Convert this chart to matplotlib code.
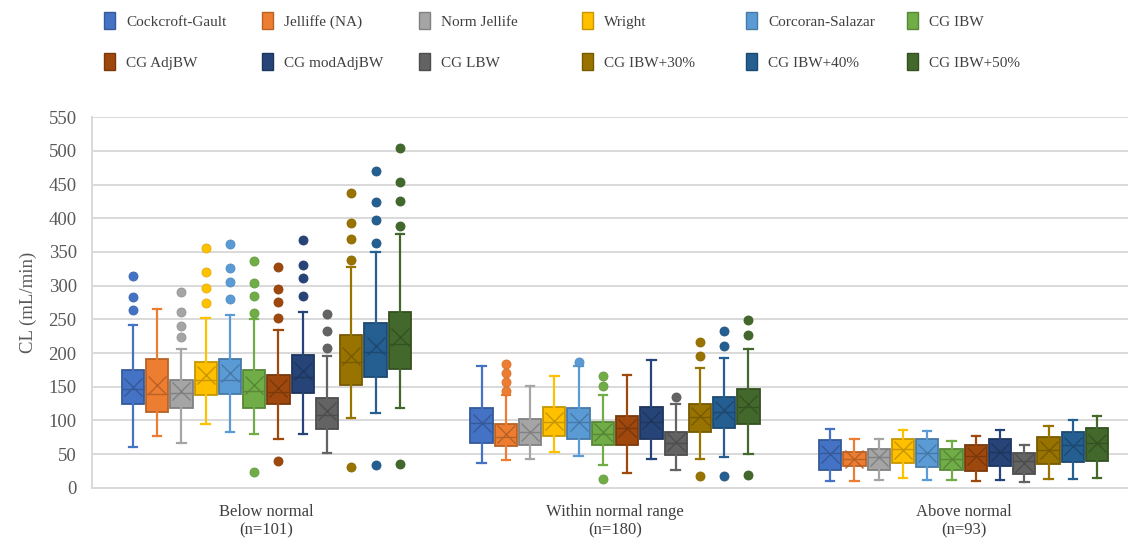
import matplotlib
matplotlib.use("Agg")
import matplotlib.pyplot as plt
from matplotlib.colors import to_rgb
from matplotlib.patches import Patch

plt.rcParams['font.family'] = ['Liberation Serif', 'DejaVu Serif']

methods = ["Cockcroft-Gault", "Jelliffe (NA)", "Norm Jellife", "Wright", "Corcoran-Salazar", "CG IBW",
           "CG AdjBW", "CG modAdjBW", "CG LBW", "CG IBW+30%", "CG IBW+40%", "CG IBW+50%"]
groups = ["Below normal\n(n=101)", "Within normal range\n(n=180)", "Above normal\n(n=93)"]
colors = ["#4472C4", "#ED7D31", "#A5A5A5", "#FFC000", "#5B9BD5", "#70AD47",
          "#9E480E", "#264478", "#636363", "#997300", "#255E91", "#43682B"]

# one row per renal function group, one column per method (mL/min)
whis_lo = [
    [60, 77, 67, 95, 82, 79, 73, 79, 51, 103, 111, 119],
    [36, 41, 43, 53, 47, 33, 22, 43, 27, 43, 46, 50],
    [10, 10, 11, 14, 12, 11, 10, 12, 8, 13, 13, 15],
]
q1 = [
    [124, 113, 119, 137, 139, 119, 124, 140, 87, 152, 165, 176],
    [66, 62, 63, 77, 72, 63, 63, 72, 48, 82, 89, 94],
    [27, 32, 27, 36, 30, 26, 25, 32, 20, 35, 38, 40],
]
med = [
    [147, 139, 140, 160, 160, 143, 142, 165, 108, 186, 202, 214],
    [96, 75, 82, 97, 97, 79, 88, 97, 66, 105, 112, 120],
    [52, 42, 46, 57, 52, 42, 47, 53, 39, 56, 63, 66],
]
mean = [
    [150, 152, 144, 168, 170, 152, 148, 174, 114, 196, 210, 224],
    [96, 79, 83, 99, 98, 82, 89, 100, 68, 107, 115, 124],
    [50, 42, 45, 56, 52, 42, 47, 53, 36, 56, 62, 66],
]
q3 = [
    [175, 191, 160, 186, 191, 175, 168, 197, 133, 227, 244, 261],
    [119, 95, 102, 120, 119, 98, 106, 120, 82, 125, 135, 146],
    [71, 53, 58, 72, 72, 58, 64, 72, 52, 76, 83, 88],
]
whis_hi = [
    [242, 266, 206, 252, 257, 251, 234, 261, 196, 327, 350, 376],
    [180, 138, 151, 166, 180, 137, 168, 189, 125, 178, 192, 206],
    [87, 73, 72, 86, 84, 70, 77, 86, 64, 92, 100, 107],
]
outliers = [
    [[314, 283, 264], [], [290, 261, 240, 224], [356, 320, 296, 275], [362, 326, 305, 280],
     [336, 304, 285, 260, 24], [328, 295, 276, 252, 40], [368, 331, 311, 285], [258, 232, 208],
     [438, 393, 369, 338, 31], [470, 424, 398, 364, 34], [505, 454, 426, 389, 35]],
    [[], [184, 170, 157, 144], [], [], [187], [166, 151, 13], [], [], [134],
     [216, 196, 17], [233, 211, 17], [249, 226, 19]],
    [[] for _ in range(12)],
]


def darker(c, f=0.78):
    r, g, b = to_rgb(c)
    return (r * f, g * f, b * f)


fig = plt.figure(figsize=(11.28, 5.48), dpi=100)
ax = fig.add_axes([92 / 1128, 60.3 / 548, 1046 / 1128, 370.4 / 548])

step = 0.0696
bw = 0.064
for j, (m, c) in enumerate(zip(methods, colors)):
    ec = darker(c)
    stats = []
    for g in range(3):
        stats.append(dict(med=med[g][j], q1=q1[g][j], q3=q3[g][j], whislo=whis_lo[g][j],
                          whishi=whis_hi[g][j], mean=mean[g][j], fliers=outliers[g][j]))
    pos = [g + (j - 5.5) * step for g in range(3)]
    ax.bxp(stats, positions=pos, widths=bw, capwidths=0.024, patch_artist=True,
           showmeans=True, manage_ticks=False,
           boxprops=dict(facecolor=c, edgecolor=ec, linewidth=1.3),
           whiskerprops=dict(color=c, linewidth=1.6),
           capprops=dict(color=c, linewidth=1.6),
           medianprops=dict(color=ec, linewidth=1.0),
           meanprops=dict(marker='x', markersize=13, markeredgecolor=ec, markeredgewidth=1.0),
           flierprops=dict(marker='o', markersize=6.5, markerfacecolor=c,
                           markeredgecolor=darker(c, 0.9), markeredgewidth=0.6))

ax.set_xlim(-0.5, 2.5)
ax.set_ylim(0, 550)
ax.set_yticks(range(0, 551, 50))
ax.set_xticks(range(3))
ax.set_xticklabels(groups, fontsize=12, color="#404040", linespacing=1.15)
ax.tick_params(axis='y', length=0, pad=11, labelsize=13.5, labelcolor="#595959")
ax.tick_params(axis='x', length=0, pad=12)
ax.grid(axis='y', color="#D9D9D9", linewidth=1.4)
ax.set_axisbelow(True)
for s in ("top", "right"):
    ax.spines[s].set_visible(False)
for s in ("left", "bottom"):
    ax.spines[s].set_color("#D9D9D9")
    ax.spines[s].set_linewidth(1.4)
ax.set_ylabel("CL (mL/min)", fontsize=13.5, color="#595959", labelpad=8)

# legend: six columns of two entries each
leg_x = [104, 262, 419, 582, 746, 907]
for k in range(6):
    handles = [Patch(facecolor=colors[i], edgecolor=darker(colors[i])) for i in (k, k + 6)]
    fig.legend(handles, [methods[k], methods[k + 6]], loc='upper left',
               bbox_to_anchor=(leg_x[k] / 1128, 1 - 12 / 548), frameon=False,
               fontsize=11, handlelength=0.75, handleheight=1.35, handletextpad=0.7,
               labelspacing=1.55, borderpad=0, borderaxespad=0, labelcolor="#404040")

fig.savefig("out.png", dpi=100)
